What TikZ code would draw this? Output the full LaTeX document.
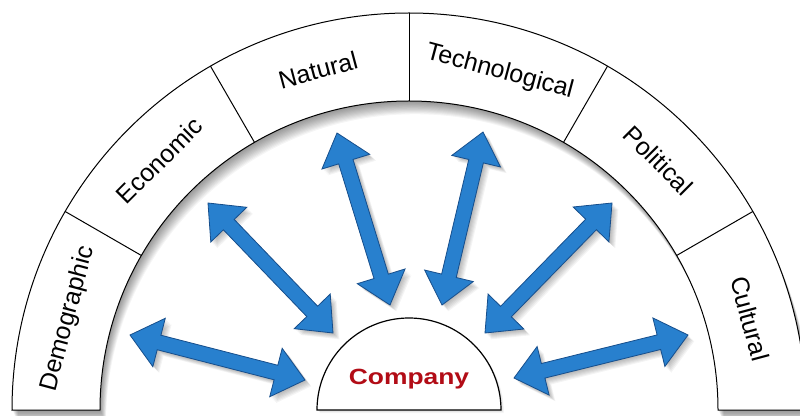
\documentclass[tikz,border=0pt]{standalone}
\usepackage{fontspec}
\setmainfont{Liberation Sans}
\usetikzlibrary{calc}
\definecolor{arrblue}{RGB}{40,128,206}
\definecolor{arredge}{RGB}{22,78,140}
\definecolor{compred}{RGB}{178,12,22}
\newcommand\dblarrowpath[2]{(#1) -- ($(#1)!39.05pt!39.8:(#2)$) -- ($(#1)!30.92pt!14.04:(#2)$) -- ($(#2)!30.92pt!-14.04:(#1)$) -- ($(#2)!39.05pt!-39.8:(#1)$) -- (#2) -- ($(#2)!39.05pt!39.8:(#1)$) -- ($(#2)!30.92pt!14.04:(#1)$) -- ($(#1)!30.92pt!-14.04:(#2)$) -- ($(#1)!39.05pt!-39.8:(#2)$) -- cycle}
\newcommand\dblarrow[2]{%
  \foreach \k in {1,...,7}{\fill[black,opacity=0.045,transform canvas={shift={(\k*0.9pt,-\k*0.9pt)}}] \dblarrowpath{#1}{#2};}
  \filldraw[arrowbody] \dblarrowpath{#1}{#2};}
\newcommand\archpath{($(C)+(180:397)$) arc[start angle=180,end angle=0,radius=397] -- ($(C)+(0:309)$) arc[start angle=0,end angle=180,radius=309] -- cycle}
\tikzset{
  arrowbody/.style={fill=arrblue,draw=arredge,line width=0.8pt,line join=miter},
  archline/.style={draw=black,line width=1pt},
  lab/.style={font=\fontsize{25}{29}\selectfont,text=black,inner sep=0pt},
  complab/.style={font=\fontsize{22}{26}\selectfont\bfseries,text=compred,inner sep=0pt,xscale=1.2}
}
\begin{document}
\begin{tikzpicture}[x=1pt,y=1pt]
\useasboundingbox (0,0) rectangle (800,415);
\clip (0,0) rectangle (800,415);
\fill[white] (0,0) rectangle (800,415);
\coordinate (C) at (409,5);
% arch shadow
\foreach \k in {1,...,12}{\fill[black,opacity=0.04,transform canvas={shift={(\k*0.5pt,-\k*1.1pt)}}] \archpath;}
% arch
\filldraw[archline,fill=white] \archpath;
\foreach \a in {30,60,90,120,150}{\draw[archline] ($(C)+(\a:309)$) -- ($(C)+(\a:397)$);}
% labels
\node[lab,rotate=75]  (dem) at ($(C)+(165:353)$) {Demographic};
\node[lab,rotate=45]  (eco) at ($(C)+(135:353)$) {Economic};
\node[lab,rotate=15]  (nat) at ($(C)+(105:352)$) {Natural};
\node[lab,rotate=-15] (tec) at ($(C)+(75:350)$) {Technological};
\node[lab,rotate=-45] (pol) at ($(C)+(45:353)$) {Political};
\node[lab,rotate=-75] (cul) at ($(C)+(15:353)$) {Cultural};
% company
\foreach \k in {1,...,5}{\fill[black,opacity=0.03,transform canvas={shift={(\k*0.6pt,-\k*0.6pt)}}] ($(C)+(-92,0)$) arc[start angle=180,end angle=0,radius=92] -- cycle;}
\filldraw[draw=black,line width=1.2pt,fill=white] ($(C)+(-92,0)$) arc[start angle=180,end angle=0,radius=92] -- cycle;
\node[complab,anchor=base] (comp) at (409,31) {Company};
% arrow end points
\coordinate (d1) at (130,80);  \coordinate (c1) at (305,35);
\coordinate (d2) at (208,212); \coordinate (c2) at (333,82);
\coordinate (d3) at (337,282); \coordinate (c3) at (390,110);
\coordinate (d4) at (483,283); \coordinate (c4) at (442,110);
\coordinate (d5) at (612,212); \coordinate (c5) at (485,82);
\coordinate (d6) at (688,80);  \coordinate (c6) at (514,37);
\dblarrow{d1}{c1}
\dblarrow{d2}{c2}
\dblarrow{d3}{c3}
\dblarrow{d4}{c4}
\dblarrow{d5}{c5}
\dblarrow{d6}{c6}
\end{tikzpicture}
\end{document}
